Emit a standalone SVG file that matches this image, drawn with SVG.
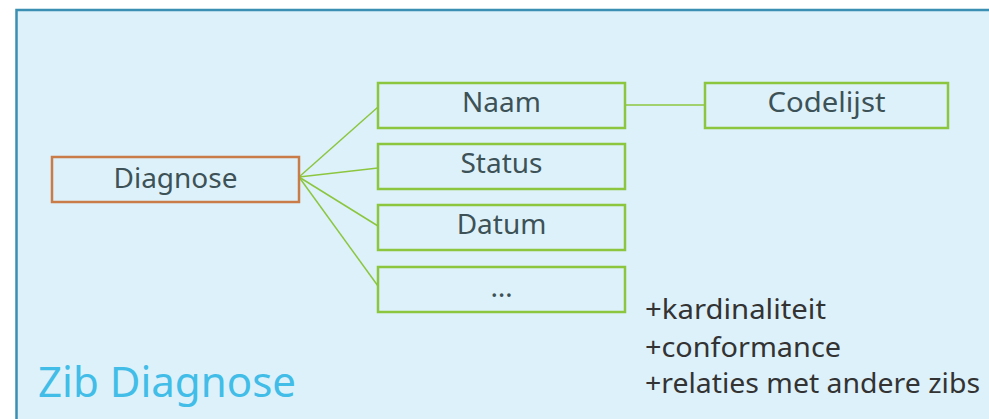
<svg xmlns="http://www.w3.org/2000/svg" width="989" height="419" viewBox="0 0 989 419">
<style>
.frame{fill:#ddf1fa;stroke:#3a8fb2;stroke-width:2.5}
.attr{fill:#ddf1fa;stroke:#8cc63f;stroke-width:2.5}
.main{fill:#ddf1fa;stroke:#c97c48;stroke-width:2.5}
.lbl{font-family:"Noto Sans","Open Sans",sans-serif;font-size:28px;fill:#3d5257;text-anchor:middle}
.note{font-family:"Noto Sans","Open Sans",sans-serif;font-size:28px;fill:#333333}
.title{font-family:"Noto Sans","Open Sans",sans-serif;font-size:42px;fill:#41bde8}
.conn{stroke:#8cc63f;stroke-width:1.5;fill:none}
</style>
<rect width="989" height="419" fill="#ffffff"/>
<rect class="frame" x="16.5" y="10" width="990" height="420"/>
<g id="connectors">
<line class="conn" x1="299" y1="177" x2="378" y2="107"/>
<line class="conn" x1="299" y1="177" x2="378" y2="168"/>
<line class="conn" x1="299" y1="177" x2="378" y2="226"/>
<line class="conn" x1="299" y1="177" x2="378" y2="286"/>
<line class="conn" x1="625" y1="105" x2="705" y2="105"/>
</g>
<g id="diagnose">
<rect class="main" x="52" y="157" width="247" height="45"/>
<text class="lbl" x="175.5" y="188" textLength="124" lengthAdjust="spacingAndGlyphs">Diagnose</text>
</g>
<g id="naam">
<rect class="attr" x="378" y="83" width="247" height="45"/>
<text class="lbl" x="501.5" y="112">Naam</text>
</g>
<g id="status">
<rect class="attr" x="378" y="144" width="247" height="45"/>
<text class="lbl" x="501.5" y="173">Status</text>
</g>
<g id="datum">
<rect class="attr" x="378" y="205" width="247" height="45"/>
<text class="lbl" x="501.5" y="234">Datum</text>
</g>
<g id="overig">
<rect class="attr" x="378" y="267" width="247" height="45"/>
<text class="lbl" x="501.5" y="297">…</text>
</g>
<g id="codelijst">
<rect class="attr" x="705" y="83" width="243" height="45"/>
<text class="lbl" x="826.5" y="112" textLength="118" lengthAdjust="spacingAndGlyphs">Codelijst</text>
</g>
<text class="title" x="38" y="397" textLength="258" lengthAdjust="spacingAndGlyphs">Zib Diagnose</text>
<text class="note" x="645" y="319" textLength="181" lengthAdjust="spacingAndGlyphs">+kardinaliteit</text>
<text class="note" x="645" y="357" textLength="196" lengthAdjust="spacingAndGlyphs">+conformance</text>
<text class="note" x="645" y="393" textLength="335" lengthAdjust="spacingAndGlyphs">+relaties met andere zibs</text>
</svg>
